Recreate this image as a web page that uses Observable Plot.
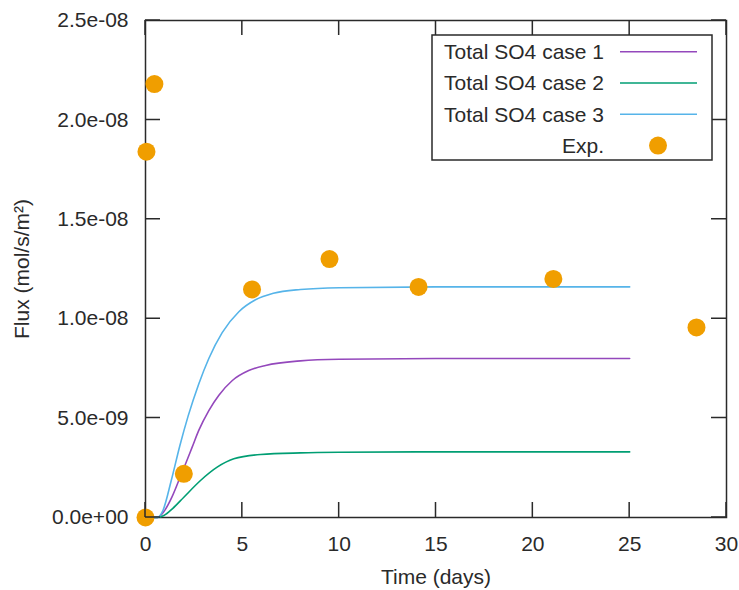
<!DOCTYPE html>
<html><head><meta charset="utf-8">
<script src="https://cdn.jsdelivr.net/npm/d3@7"></script>
<script src="https://cdn.jsdelivr.net/npm/@observablehq/plot@0.6"></script>
<style>body{margin:0;background:#fff;}</style>
</head><body><div id="chart"></div>
<script>
// ---- data ----
const seriesNames = ["Total SO4 case 1", "Total SO4 case 2", "Total SO4 case 3"];
const seriesColors = ["#9448bc", "#009e73", "#56b4e9"];
const expName = "Exp.";
const expColor = "#f09e00";

const case1Time = [0, 0.6, 0.95, 1.35, 1.72, 2.07, 2.41, 2.75, 3.27, 3.79, 4.47, 5.33, 6.2, 8.0, 10, 15, 20, 25];
const case1Flux = [0, 0, 0.3e-9, 1.0e-9, 1.86e-9, 2.7e-9, 3.54e-9, 4.38e-9, 5.38e-9, 6.15e-9, 6.88e-9, 7.39e-9, 7.65e-9, 7.88e-9, 7.96e-9, 8.0e-9, 8.0e-9, 8.0e-9];

const case2Time = [0, 0.6, 0.95, 1.4, 1.98, 2.84, 3.7, 4.56, 5.94, 8.0, 10, 15, 20, 25];
const case2Flux = [0, 0, 0.1e-9, 0.45e-9, 1.02e-9, 1.86e-9, 2.53e-9, 2.95e-9, 3.17e-9, 3.25e-9, 3.28e-9, 3.3e-9, 3.3e-9, 3.3e-9];

const case3Time = [0, 0.6, 0.9, 1.33, 1.77, 2.2, 2.75, 3.27, 3.96, 4.82, 5.68, 6.6, 8.0, 10, 15, 20, 25];
const case3Flux = [0, 0, 0.35e-9, 1.86e-9, 3.6e-9, 5.1e-9, 6.72e-9, 8.0e-9, 9.3e-9, 10.35e-9, 10.95e-9, 11.28e-9, 11.47e-9, 11.56e-9, 11.6e-9, 11.6e-9, 11.6e-9];

const expTime = [0, 0.05, 0.46, 1.98, 5.5, 9.5, 14.1, 21.06, 28.45];
const expFlux = [0, 1.84e-8, 2.18e-8, 2.2e-9, 1.147e-8, 1.30e-8, 1.16e-8, 1.20e-8, 9.56e-9];

const xTicks = [0, 5, 10, 15, 20, 25, 30];
const xTickLabels = ["0", "5", "10", "15", "20", "25", "30"];
const yTicks = [0, 5e-9, 1e-8, 1.5e-8, 2e-8, 2.5e-8];
const yTickLabels = ["0.0e+00", "5.0e-09", "1.0e-08", "1.5e-08", "2.0e-08", "2.5e-08"];
const xLabel = "Time (days)";
const yLabel = "Flux (mol/s/m²)";

// ---- build tables ----
const curveTimes = [case1Time, case2Time, case3Time];
const curveFluxes = [case1Flux, case2Flux, case3Flux];
const curves = [];
seriesNames.forEach((name, s) => {
  curveTimes[s].forEach((t, i) => curves.push({series: name, t, v: curveFluxes[s][i]}));
});
const expData = expTime.map((t, i) => ({t, v: expFlux[i]}));

const font = "'Liberation Sans', Arial, sans-serif";
const ink = "#2a2a2a";
const W = 739, H = 590, mL = 145, mR = 13, mT = 20, mB = 73;
const xDomain = [0, 30], yDomain = [0, 2.5e-8];
const tickLen = 15;

const plot = Plot.plot({
  width: W,
  height: H,
  marginLeft: mL,
  marginRight: mR,
  marginTop: mT,
  marginBottom: mB,
  style: {fontFamily: font, fontSize: "21px", color: ink, background: "#fff", overflow: "visible"},
  x: {domain: xDomain, label: null},
  y: {domain: yDomain, label: null},
  color: {domain: seriesNames, range: seriesColors},
  marks: [
    Plot.frame({fill: "none", stroke: ink, strokeWidth: 1.5}),
    // tick labels
    Plot.axisX({anchor: "bottom", ticks: xTicks, tickSize: 0, tickPadding: 19, tickFormat: d => xTickLabels[xTicks.indexOf(d)], label: null, fill: ink}),
    Plot.axisY({anchor: "left", ticks: yTicks, tickSize: 0, tickPadding: 17, tickFormat: d => yTickLabels[yTicks.indexOf(d)], label: null, fill: ink}),
    Plot.line(curves, {x: "t", y: "v", z: "series", stroke: "series", strokeWidth: 1.6, curve: "monotone-x"}),
    Plot.dot(expData, {x: "t", y: "v", r: 9, fill: expColor, stroke: null}),
    Plot.text([xLabel], {frameAnchor: "bottom", dy: 66, fill: ink}),
    Plot.text([yLabel], {frameAnchor: "left", dx: -123, rotate: -90, textAnchor: "middle", fill: ink})
  ]
});

const svg = d3.select(plot);
// ---- inward tick marks on all four sides, placed with the plot's own scales ----
const sx = plot.scale("x"), sy = plot.scale("y");
const x0 = sx.apply(xDomain[0]), x1 = sx.apply(xDomain[1]);
const y0 = sy.apply(yDomain[0]), y1 = sy.apply(yDomain[1]);
let d = "";
xTicks.forEach(t => {
  const px = sx.apply(t);
  d += `M${px},${y0}V${y0 - tickLen}M${px},${y1}V${y1 + tickLen}`;
});
yTicks.forEach(v => {
  const py = sy.apply(v);
  d += `M${x0},${py}H${x0 + tickLen}M${x1},${py}H${x1 - tickLen}`;
});
svg.append("path").attr("d", d).attr("fill", "none").attr("stroke", ink).attr("stroke-width", 1.5);

// ---- legend box (top right inside the frame) ----
const lg = svg.append("g").attr("font-family", font).attr("font-size", 21).attr("fill", ink);
lg.append("rect").attr("x", 432).attr("y", 35).attr("width", 280).attr("height", 125)
  .attr("fill", "#fff").attr("stroke", ink).attr("stroke-width", 1.5);
const rowY = [51.7, 83, 114.3, 145.6];
seriesNames.forEach((name, i) => {
  lg.append("text").attr("x", 604).attr("y", rowY[i]).attr("dy", "0.35em").attr("text-anchor", "end").text(name);
  lg.append("line").attr("x1", 620).attr("x2", 697).attr("y1", rowY[i]).attr("y2", rowY[i])
    .attr("stroke", seriesColors[i]).attr("stroke-width", 1.6);
});
lg.append("text").attr("x", 604).attr("y", rowY[3]).attr("dy", "0.35em").attr("text-anchor", "end").text(expName);
lg.append("circle").attr("cx", 658).attr("cy", rowY[3]).attr("r", 9).attr("fill", expColor);

document.getElementById("chart").appendChild(plot);
</script>
</body></html>
